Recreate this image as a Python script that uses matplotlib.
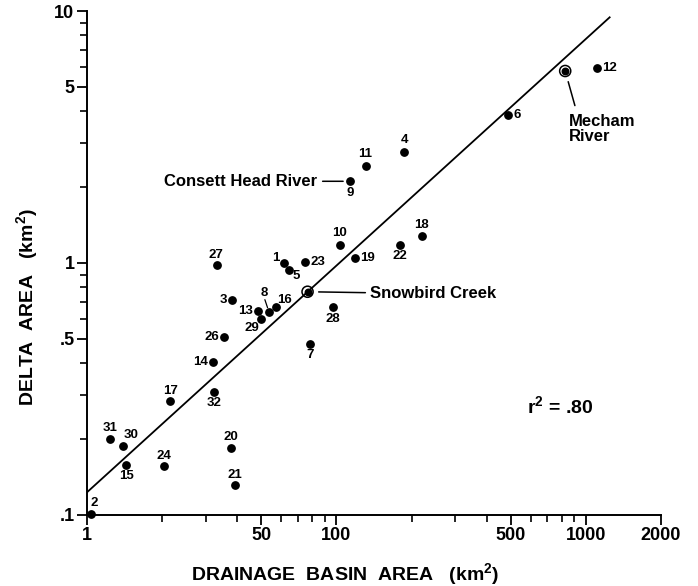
import matplotlib
matplotlib.use('Agg')
import matplotlib.pyplot as plt
from matplotlib.ticker import FixedLocator, FixedFormatter, LogLocator, NullFormatter

# station numbers, drainage basin area (km2) and delta area (km2)
site_ids = [1, 2, 3, 4, 5, 6, 7, 8, 9, 10, 11, 12, 13, 14, 15, 16,
            17, 18, 19, 20, 21, 22, 23, 24, 26, 27, 28, 29, 30, 31, 32]
basin_area = [61.5, 10.4, 38.1, 186.6, 64.3, 487.5, 78.2, 53.6, 113.4, 103.1, 131.5, 1109,
              48.3, 32.0, 14.4, 57.2, 21.6, 219.3, 118.3, 37.9, 39.1, 180.3, 74.9, 20.3,
              35.4, 33.3, 97.0, 49.8, 14.0, 12.4, 32.4]
delta_area = [1.0, 0.101, 0.711, 2.76, 0.936, 3.87, 0.477, 0.641, 2.11, 1.184, 2.43, 5.94,
              0.647, 0.406, 0.158, 0.669, 0.283, 1.28, 1.044, 0.184, 0.132, 1.18, 1.01, 0.156,
              0.507, 0.982, 0.667, 0.601, 0.187, 0.200, 0.308]

# named (circled) rivers
named_rivers = ['Snowbird Creek', 'Mecham River']
named_basin = [76.6, 826]
named_delta = [0.769, 5.78]

# regression line end points
fit_x = [10, 1245]
fit_y = [0.123, 9.44]

x_ticks = [10, 50, 100, 500, 1000, 2000]
x_tick_labels = ['1', '50', '100', '500', '1000', '2000']
y_ticks = [0.1, 0.5, 1, 5, 10]
y_tick_labels = ['.1', '.5', '1', '5', '10']

# label placement: offset in pixels, horizontal alignment
label_pos = {
    1: (-8, 5, 'center'), 2: (3, 11, 'center'), 3: (-5, 0, 'right'), 4: (0, 12, 'center'),
    5: (8, -6, 'center'), 6: (5, 0, 'left'), 7: (0, -11, 'center'), 8: (-5, 19, 'center'),
    9: (0, -12, 'center'), 10: (0, 12, 'center'), 11: (-1, 12, 'center'), 12: (5, 0, 'left'),
    13: (-5, 0, 'right'), 14: (-5, 0, 'right'), 15: (0, -11, 'center'), 16: (9, 7, 'center'),
    17: (0, 10, 'center'), 18: (0, 11, 'center'), 19: (5, 0, 'left'), 20: (0, 11, 'center'),
    21: (0, 10, 'center'), 22: (0, -11, 'center'), 23: (5, 0, 'left'), 24: (0, 10, 'center'),
    26: (-5, 0, 'right'), 27: (-1, 10, 'center'), 28: (0, -12, 'center'), 29: (-9, -9, 'center'),
    30: (8, 11, 'center'), 31: (0, 11, 'center'), 32: (0, -11, 'center'),
}


def main():
    plt.rcParams['font.family'] = ['Liberation Sans', 'DejaVu Sans']
    plt.rcParams['mathtext.default'] = 'regular'
    draw_chart()


def draw_chart():
    fig = plt.figure(figsize=(6.98, 5.86), dpi=100)
    ax = fig.add_axes([0.1246, 0.1212, 0.8224, 0.860])
    ax.set_xscale('log')
    ax.set_yscale('log')
    ax.set_xlim(10, 2000)
    ax.set_ylim(0.1, 10)

    # regression line
    ax.plot(fit_x, fit_y, color='black', lw=1.3, zorder=2)

    # points
    ax.scatter(basin_area, delta_area, s=28, color='black', zorder=3, clip_on=False)
    ax.scatter(named_basin, named_delta, s=22, color='black', zorder=4)
    ax.scatter(named_basin, named_delta, s=64, facecolors='none', edgecolors='black',
               linewidths=1.1, zorder=4)

    for sid, bx, dy in zip(site_ids, basin_area, delta_area):
        ox, oy, ha = label_pos[sid]
        ax.annotate(str(sid), (bx, dy), xytext=(ox, oy), textcoords='offset pixels',
                    ha=ha, va='center', fontsize=9.5, fontweight='bold')
    # little leader for 8
    ax.annotate('', (basin_area[7], delta_area[7]), xytext=(-4, 12), textcoords='offset pixels',
                arrowprops=dict(arrowstyle='-', lw=0.9, shrinkA=0, shrinkB=3))

    # named rivers
    ax.annotate('Consett Head River', (basin_area[8], delta_area[8]), xytext=(-33, 0),
                textcoords='offset pixels', ha='right', va='center', fontsize=12,
                fontweight='bold',
                arrowprops=dict(arrowstyle='-', lw=1.1, shrinkA=2, shrinkB=5))
    ax.annotate(named_rivers[0], (named_basin[0], named_delta[0]), xytext=(62, -2),
                textcoords='offset pixels', ha='left', va='center', fontsize=12,
                fontweight='bold',
                arrowprops=dict(arrowstyle='-', lw=1.1, shrinkA=1, shrinkB=8))
    ax.annotate('Mecham\nRiver', (named_basin[1], named_delta[1]), xytext=(4, -58),
                textcoords='offset pixels', ha='left', va='center', fontsize=12,
                fontweight='bold', linespacing=1.05,
                arrowprops=dict(arrowstyle='-', lw=1.1, shrinkA=4, shrinkB=8, relpos=(0.12, 1)))

    ax.text(0.766, 0.215, 'r$^2$ = .80', transform=ax.transAxes, fontsize=14,
            fontweight='bold', ha='left', va='center')

    # axes styling
    for side in ['top', 'right']:
        ax.spines[side].set_visible(False)
    for side in ['left', 'bottom']:
        ax.spines[side].set_linewidth(1.4)
    ax.xaxis.set_major_locator(FixedLocator(x_ticks))
    ax.xaxis.set_major_formatter(FixedFormatter(x_tick_labels))
    ax.xaxis.set_minor_locator(LogLocator(base=10, subs=range(2, 10)))
    ax.xaxis.set_minor_formatter(NullFormatter())
    ax.yaxis.set_major_locator(FixedLocator(y_ticks))
    ax.yaxis.set_major_formatter(FixedFormatter(y_tick_labels))
    ax.yaxis.set_minor_locator(LogLocator(base=10, subs=range(2, 10)))
    ax.yaxis.set_minor_formatter(NullFormatter())
    ax.tick_params(which='major', length=7, width=1.3, labelsize=13, pad=2)
    ax.tick_params(which='minor', length=5, width=1.2)
    for lbl in ax.get_xticklabels() + ax.get_yticklabels():
        lbl.set_fontweight('bold')

    fig.text(345 / 698, 1 - 574 / 586, 'DRAINAGE  BASIN  AREA   (km$^2$)', ha='center',
             va='center', fontsize=14, fontweight='bold')
    fig.text(27 / 698, 1 - 307 / 586, 'DELTA  AREA   (km$^2$)', ha='center', va='center',
             rotation=90, fontsize=14, fontweight='bold')

    fig.savefig('out.png', dpi=100)


if __name__ == "__main__":
    main()
